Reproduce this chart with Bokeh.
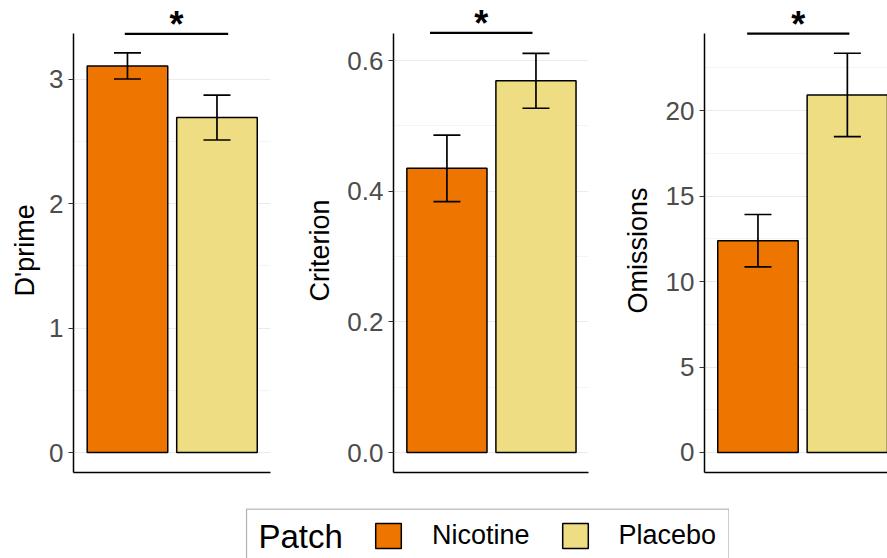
from bokeh.plotting import figure
from bokeh.layouts import row, column
from bokeh.models import (Range1d, FixedTicker, PrintfTickFormatter, Whisker, TeeHead, Title,
                          ColumnDataSource, Label, Legend, LegendItem, BoxAnnotation, Spacer)
from bokeh.embed import file_html
from bokeh.resources import INLINE

# ---------------- data ----------------
patch = ["Nicotine", "Placebo"]
patch_colors = ["#EE7600", "#EEDD82"]

dprime_mean = [3.105, 2.69]
dprime_se = [0.105, 0.18]
criterion_mean = [0.435, 0.569]
criterion_se = [0.051, 0.042]
omissions_mean = [12.39, 20.92]
omissions_se = [1.535, 2.44]

dprime_ticks = [0, 1, 2, 3]
dprime_minor = [0.5, 1.5, 2.5]
criterion_ticks = [0.0, 0.2, 0.4, 0.6]
criterion_minor = [0.1, 0.3, 0.5]
omissions_ticks = [0, 5, 10, 15, 20]
omissions_minor = [2.5, 7.5, 12.5, 17.5, 22.5]

# significance brackets: (x start, x end, height) in data units
dprime_sig = (0.97, 2.125, 3.363)
criterion_sig = (0.81, 1.961, 0.6425)
omissions_sig = (0.879, 2.023, 24.514)
sig_label = "*"

FONT = "Liberation Sans"
x_pos = [i + 1 for i in range(len(patch))]


def panel(ylabel, label_offset, label_standoff, means, ses, ticks, minor, fmt, yr, ytop,
          xr, sig, width, left, right):
    p = figure(width=width, height=508, x_range=Range1d(*xr), y_range=Range1d(*yr),
               output_backend="svg", toolbar_location=None, tools="",
               min_border_left=left, min_border_right=right,
               min_border_top=2, min_border_bottom=36)
    p.outline_line_color = None
    p.background_fill_color = "white"
    p.border_fill_color = "white"

    p.xgrid.visible = False
    p.ygrid.ticker = FixedTicker(ticks=ticks, minor_ticks=minor)
    p.ygrid.grid_line_color = "#EBEBEB"
    p.ygrid.grid_line_width = 1.1
    p.ygrid.minor_grid_line_color = "#F1F1F1"
    p.ygrid.minor_grid_line_width = 0.8

    p.xaxis.ticker = FixedTicker(ticks=[])
    p.xaxis.major_tick_line_color = None
    p.xaxis.minor_tick_line_color = None
    p.xaxis.major_label_text_font_size = "0px"
    p.xaxis.axis_line_color = "black"
    p.xaxis.axis_line_width = 1.5

    ya = p.yaxis[0]
    ya.bounds = (yr[0], ytop)
    ya.ticker = FixedTicker(ticks=ticks)
    ya.formatter = PrintfTickFormatter(format=fmt)
    ya.major_label_text_font = FONT
    ya.major_label_text_font_size = "26px"
    ya.major_label_text_color = "#4D4D4D"
    ya.major_label_standoff = 5
    ya.major_tick_out = 5
    ya.major_tick_in = 0
    ya.major_tick_line_color = "#333333"
    ya.major_tick_line_width = 1.1
    ya.minor_tick_line_color = None
    ya.axis_line_color = "black"
    ya.axis_line_width = 1.5

    # y-axis title, placed so it is centred on the drawn axis line
    p.add_layout(Title(text=ylabel, align="left", offset=label_offset,
                       standoff=label_standoff,
                       text_font=FONT, text_font_size="27px", text_font_style="normal",
                       text_color="black"), "left")

    src = ColumnDataSource(dict(
        x=x_pos, top=means, color=patch_colors, patch=patch,
        upper=[m + s for m, s in zip(means, ses)],
        lower=[m - s for m, s in zip(means, ses)],
    ))
    p.vbar(x="x", top="top", bottom=0, width=0.9, source=src,
           fill_color="color", line_color="black", line_width=1.5)
    w = Whisker(base="x", upper="upper", lower="lower", source=src, level="overlay",
                line_color="black", line_width=1.7,
                upper_head=TeeHead(size=27, line_color="black", line_width=1.7),
                lower_head=TeeHead(size=27, line_color="black", line_width=1.7))
    p.add_layout(w)

    p.segment(x0=[sig[0]], y0=[sig[2]], x1=[sig[1]], y1=[sig[2]],
              line_color="black", line_width=2.2)
    p.add_layout(Label(x=(sig[0] + sig[1]) / 2, y=sig[2], text=sig_label,
                       text_font=FONT, text_font_style="bold", text_font_size="36px",
                       text_align="center", text_baseline="middle",
                       text_color="black", y_offset=9))
    return p


f1 = panel("D'prime", 176, 14, dprime_mean, dprime_se, dprime_ticks, dprime_minor, "%.0f",
           (-0.1606, 3.6145), 3.365, (0.397, 2.598), dprime_sig, 292, 73, 22)
f2 = panel("Criterion", 171, 20, criterion_mean, criterion_se, criterion_ticks,
           criterion_minor, "%.1f", (-0.0306, 0.6889), 0.6414, (0.40, 2.59), criterion_sig,
           318, 100, 22)
f3 = panel("Omissions", 159, 20, omissions_mean, omissions_se, omissions_ticks,
           omissions_minor, "%.0f", (-1.171, 26.33), 24.514, (0.402, 2.449), omissions_sig,
           277, 94, 0)

# ---------------- legend ----------------
leg = figure(width=484, height=50, x_range=Range1d(0, 484), y_range=Range1d(0, 50),
             output_backend="svg", toolbar_location=None, tools="",
             min_border=0, x_axis_type=None, y_axis_type=None)
leg.outline_line_color = None
items = []
for name, col in zip(patch, patch_colors):
    # keys drawn off-range so only the legend shows them
    r = leg.rect(x=[-100], y=[-100], width=1, height=1,
                 fill_color=col, line_color="black", line_width=1.5)
    items.append(LegendItem(label=name, renderers=[r]))
legend = Legend(items=items, orientation="horizontal", location=(127, 7),
                padding=0, margin=0, spacing=29, label_standoff=28,
                glyph_width=32, glyph_height=31,
                label_text_font=FONT, label_text_font_size="27px",
                label_text_color="black", label_text_baseline="middle",
                border_line_color=None, background_fill_alpha=0)
leg.add_layout(legend)
leg.add_layout(BoxAnnotation(left=1, right=483.5, top=49.5, bottom=-30,
                             fill_color=None, line_color="black", line_width=1.3))
leg.add_layout(Label(x=13, y=22, text="Patch", text_font=FONT, text_font_size="33px",
                     text_color="black", text_baseline="middle"))

layout = column(row(f1, f2, f3), row(Spacer(width=245, height=50), leg))

open("out.html", "w").write(file_html(layout, INLINE))
